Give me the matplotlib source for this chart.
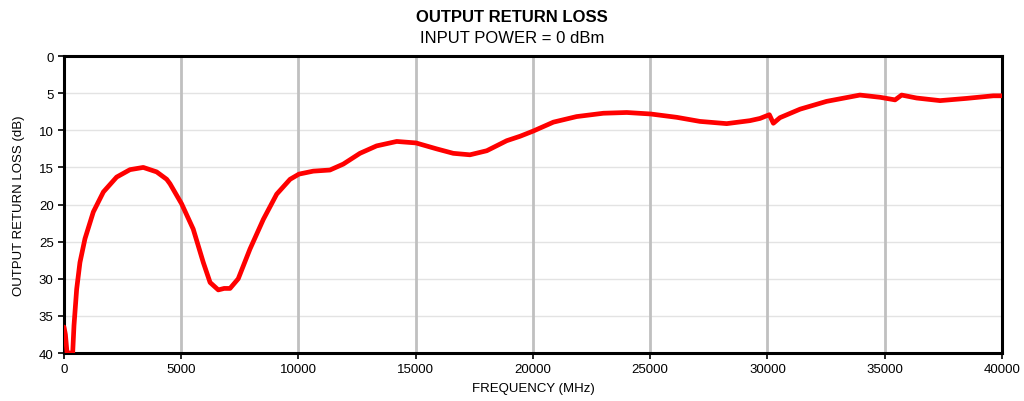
import matplotlib.pyplot as plt
import numpy as np

plt.rcParams['font.family'] = ['Liberation Sans', 'DejaVu Sans']

# values
freq_mhz = [0, 60, 130, 170, 370, 426, 540, 680, 895, 1250, 1680, 2245, 2815, 3380, 3950,
            4380, 4520, 5015, 5510, 5940, 6230, 6580, 6830, 7080, 7430, 7930, 8500, 9070, 9640,
            10020, 10630, 11340, 11910, 12620, 13330, 14190, 15010, 15890, 16600, 17310, 18030,
            18880, 19450, 20010, 20870, 21860, 23000, 24000, 25020, 26130, 27120, 28260, 29250,
            29680, 30080, 30250, 30530, 31390, 32520, 33940, 34800, 35440, 35720, 36360, 37360,
            38490, 39630, 40000]
return_loss_db = [36.5, 37.5, 40, 40, 40, 36.3, 31.4, 27.8, 24.6, 21.0, 18.3, 16.3, 15.3, 15.0, 15.6,
                  16.6, 17.2, 19.9, 23.3, 27.8, 30.5, 31.5, 31.3, 31.3, 30.0, 26.0, 22.0, 18.6, 16.6,
                  15.9, 15.5, 15.35, 14.55, 13.1, 12.1, 11.5, 11.7, 12.5, 13.1, 13.3, 12.75,
                  11.4, 10.8, 10.1, 8.9, 8.15, 7.7, 7.6, 7.8, 8.25, 8.8, 9.1, 8.7,
                  8.4, 7.9, 9.05, 8.3, 7.15, 6.1, 5.25, 5.55, 5.9, 5.25, 5.65, 6.0,
                  5.7, 5.35, 5.35]

x_ticks = np.arange(0, 40001, 5000)
y_ticks = np.arange(0, 41, 5)

fig = plt.figure(figsize=(10.24, 4.02), dpi=100)
ax = fig.add_axes([0.0625, 0.1194, 0.916, 0.7386])

for y in y_ticks:
    ax.axhline(y, color='#e3e3e3', lw=1, zorder=0)
for x in x_ticks[1:-1]:
    ax.axvline(x, color='#c0c0c0', lw=2, zorder=0)

ax.plot(freq_mhz, return_loss_db, color='#ff0000', lw=3.4, solid_joinstyle='round',
        solid_capstyle='round', zorder=3)

ax.set_xlim(0, 40000)
ax.set_ylim(40, 0)
ax.set_xticks(x_ticks)
ax.set_yticks(y_ticks)
ax.tick_params(labelsize=9.5, length=4, width=1.2)
for s in ax.spines.values():
    s.set_linewidth(2.2)
    s.set_color('black')

ax.set_xlabel('FREQUENCY (MHz)', fontsize=9.5, labelpad=5)
ax.set_ylabel('OUTPUT RETURN LOSS (dB)', fontsize=9.5, labelpad=10)
fig.text(0.5, 0.957, 'OUTPUT RETURN LOSS', ha='center', va='center', fontsize=12, fontweight='bold')
fig.text(0.5, 0.903, 'INPUT POWER = 0 dBm', ha='center', va='center', fontsize=12)

fig.savefig('out.png', dpi=100)
